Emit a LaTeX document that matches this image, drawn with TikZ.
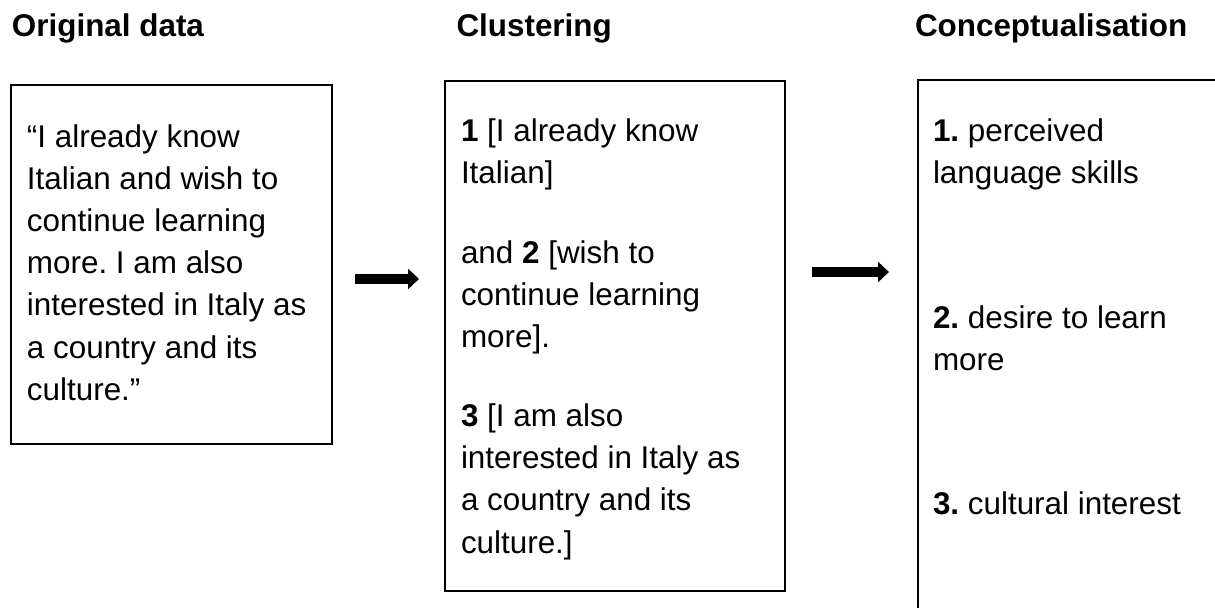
\documentclass[tikz,border=0pt]{standalone}
\usepackage{fontspec}
\setmainfont{Liberation Sans}
\usetikzlibrary{arrows.meta}
\frenchspacing
\begin{document}
\begin{tikzpicture}[x=1pt,y=-1pt,
  every node/.style={inner sep=0pt, outer sep=0pt},
  ttl/.style={anchor=base west, font=\fontsize{31.4}{42}\selectfont\bfseries},
  txt/.style={anchor=base west, font=\fontsize{31.4}{42}\selectfont},
  boxframe/.style={draw=black, line width=2pt, anchor=north west},
  blockarrow/.style={line width=10pt, -{Triangle[length=11pt,width=20pt]}}
]
\useasboundingbox (0,0) rectangle (1215,608);
% titles
\node[ttl] (t1) at (12,36) {Original data};
\node[ttl] (t2) at (456.5,36) {Clustering};
\node[ttl] (t3) at (915,36) {Conceptualisation};
% box 1
\node[boxframe, minimum width=321pt, minimum height=359pt] (b1) at (11,85) {};
\node[txt] (b1l1) at (27,147) {“I already know};
\node[txt] (b1l2) at (27,189.2) {Italian and wish to};
\node[txt] (b1l3) at (27,231.4) {continue learning};
\node[txt] (b1l4) at (27,273.6) {more. I am also};
\node[txt] (b1l5) at (27,315.8) {interested in Italy as};
\node[txt] (b1l6) at (27,358) {a country and its};
\node[txt] (b1l7) at (27,400.2) {culture.”};
% box 2
\node[boxframe, minimum width=340pt, minimum height=510pt] (b2) at (445,81) {};
\node[txt] (b2l1) at (461,141.7) {\textbf{1} [I already know};
\node[txt] (b2l2) at (461,183.9) {Italian]};
\node[txt] (b2l3) at (461,263) {and \textbf{2} [wish to};
\node[txt] (b2l4) at (461,305.2) {continue learning};
\node[txt] (b2l5) at (461,347.4) {more].};
\node[txt] (b2l6) at (461,426.5) {\textbf{3} [I am also};
\node[txt] (b2l7) at (461,468.7) {interested in Italy as};
\node[txt] (b2l8) at (461,510.9) {a country and its};
\node[txt] (b2l9) at (461,553) {culture.]};
% box 3 (runs off the page)
\coordinate (b3tr) at (1215,80);
\coordinate (b3tl) at (918,80);
\coordinate (b3bl) at (918,608);
\draw[line width=2pt] (b3tr) -- (b3tl) -- (b3bl);
\node[txt] (b3l1) at (933,141.7) {\textbf{1.} perceived};
\node[txt] (b3l2) at (933,183.2) {language skills};
\node[txt] (b3l3) at (933,328) {\textbf{2.} desire to learn};
\node[txt] (b3l4) at (933,370) {more};
\node[txt] (b3l5) at (933,514) {\textbf{3.} cultural interest};
% arrows
\coordinate (a1s) at (355,279);
\coordinate (a1e) at (419,279);
\coordinate (a2s) at (812,272);
\coordinate (a2e) at (889,272);
\draw[blockarrow] (a1s) -- (a1e);
\draw[blockarrow] (a2s) -- (a2e);
\end{tikzpicture}
\end{document}
